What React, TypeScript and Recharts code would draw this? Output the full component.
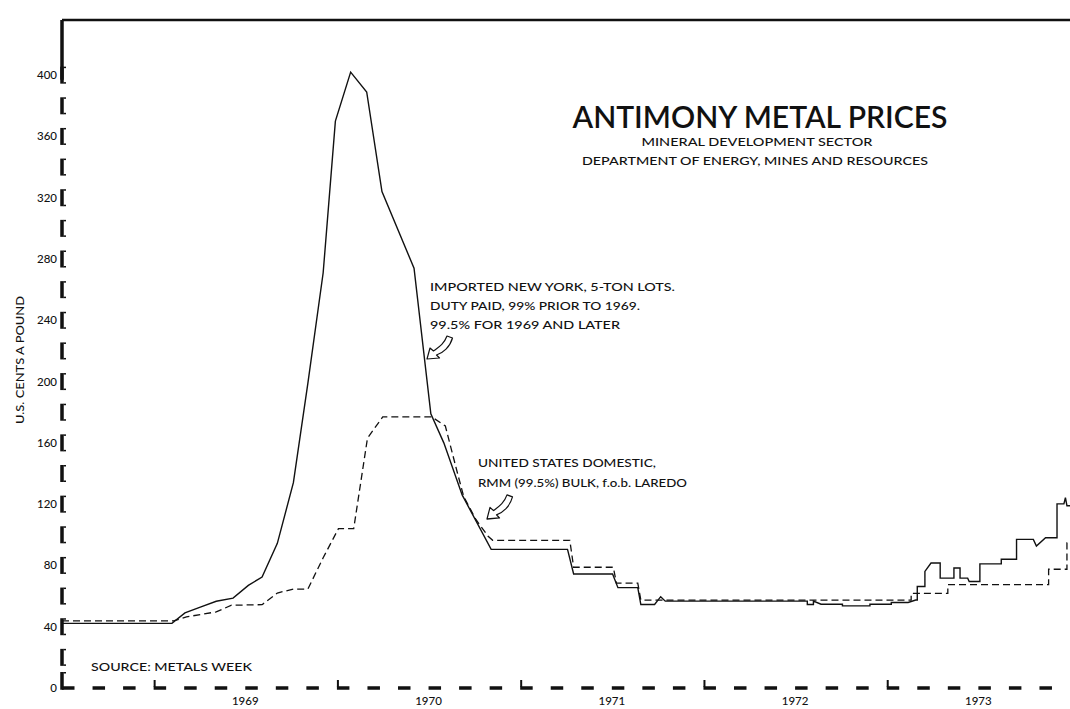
import React from 'react';
import { LineChart, Line, XAxis, YAxis, ReferenceLine } from 'recharts';

// x = months after July 1968 (chart runs Jul 1968 - Dec 1973)
const importedMonth = [0, 7.2, 8.05, 9.1, 10.1, 11.2, 12.2, 13.1, 14.1, 15.15,
  16.1, 17.1, 17.9, 18.9, 19.95, 20.95, 23.05, 24.15, 25.0, 26.2,
  28.1, 33.1, 33.5, 36.05, 36.4, 37.7, 37.9, 38.8, 39.2, 39.5,
  48.8, 48.8, 49.2, 49.2, 49.7, 51.1, 51.1, 52.9, 52.9, 54.3,
  54.3, 55.4, 55.9, 56.0, 56.0, 56.5, 56.5, 56.9, 57.5, 57.5,
  58.4, 58.4, 58.8, 58.8, 59.3, 59.4, 60.1, 60.1, 61.5, 61.5,
  62.5, 62.5, 63.6, 63.8, 64.4, 65.15, 65.15, 65.6, 65.7, 65.8, 66];
const importedPrice = [42.2, 42.2, 49, 53, 56.6, 58.7, 67, 72.4, 94.4, 134,
  199, 271, 370, 402, 389, 324, 274, 179, 160, 126,
  90.5, 90.5, 74.4, 74.4, 65.5, 65.5, 54.5, 54.5, 59.6, 56.7,
  56.7, 54.5, 54.5, 56.7, 54.7, 54.7, 53.6, 53.6, 54.7, 54.7,
  55.8, 55.8, 57.4, 57.4, 66.2, 66.2, 76.1, 81.6, 81.6, 71.7,
  71.7, 78.3, 78.3, 71.7, 71.7, 69.5, 69.5, 81, 81, 84,
  84, 97, 97, 92.6, 98.1, 98.1, 120.2, 120.2, 124.2, 119, 119];

const domesticMonth = [0, 7.3, 8.15, 10.1, 11.1, 13.1, 14.1, 15.15, 16.1, 17.1,
  18.1, 19.1, 20.0, 21.0, 24.2, 25.1, 25.9, 26.3, 27.1, 27.9,
  28.2, 33.25, 33.5, 36.1, 36.3, 37.7, 37.9, 55.6, 55.6, 58.0,
  58.0, 64.6, 64.6, 65.8, 65.8, 66];
const domesticPrice = [43.8, 43.8, 46.4, 49.7, 54, 54.4, 62, 64.6, 64.6, 85,
  104, 104, 163, 177, 177, 171, 140, 125, 110, 99,
  96.4, 96.4, 78.8, 78.8, 68.4, 68.4, 57.4, 57.4, 61.7, 61.7,
  67.5, 67.5, 77.5, 77.5, 94.7, 94.7];

const yearLabels = ['1969', '1970', '1971', '1972', '1973'];
const yearStartMonths = [6, 18, 30, 42, 54];
const priceTicks = [0, 20, 40, 60, 80, 100, 120, 140, 160, 180, 200, 220, 240, 260, 280, 300, 320, 340, 360, 380, 400];
const monthTicks = Array.from({ length: 34 }, (_, i) => i * 2);

const importedData = importedMonth.map((t, i) => ({ t, v: importedPrice[i] }));
const domesticData = domesticMonth.map((t, i) => ({ t, v: domesticPrice[i] }));

const INK = '#111';
const FONT = 'Lato, "DejaVu Sans", sans-serif';

const XTick = (props: any) => {
  const { x, y, payload } = props;
  const t = payload.value;
  const yearIdx = yearStartMonths.indexOf(t);
  const labelIdx = yearStartMonths.indexOf(t - 6);
  return (
    <g>
      <rect x={x} y={y - 1.75} width={12.5} height={3.5} fill={INK} />
      {yearIdx >= 0 && <rect x={x} y={y - 8} width={2} height={7} fill={INK} />}
      {labelIdx >= 0 && (
        <text x={x} y={y + 17} textAnchor="middle" fontSize={11.5} fontWeight={500} fontFamily={FONT} fill={INK}>
          {yearLabels[labelIdx]}
        </text>
      )}
    </g>
  );
};

const YTick = (props: any) => {
  const { x, y, payload } = props;
  const v = payload.value;
  const top = v === 0 ? y - 16 : y - 8.5;
  const h = v === 0 ? 17.75 : 17;
  return (
    <g>
      <rect x={x - 1.75} y={top} width={3.5} height={h} fill={INK} />
      <rect x={x + 1.5} y={top} width={2.5} height={1.5} fill={INK} />
      {v !== 0 && <rect x={x + 1.5} y={top + h - 1.5} width={2.5} height={1.5} fill={INK} />}
      {v % 40 === 0 && (
        <text x={x - 5} y={y + 4} textAnchor="end" fontSize={11.5} fontWeight={500} fontFamily={FONT} fill={INK}>
          {v}
        </text>
      )}
    </g>
  );
};

const HollowArrow = ({ x, y, sy = 1 }: { x: number; y: number; sy?: number }) => (
  <path
    transform={`translate(${x},${y}) scale(1,${sy})`}
    d="M0 0 L3 -11 L6.5 -8 C12 -12 17 -15 20 -23 L25.5 -21 C23 -12 16 -6 9.5 -4 L12.5 -1 Z"
    fill="#fff"
    stroke={INK}
    strokeWidth={1.2}
    strokeLinejoin="round"
  />
);

export default function App() {
  return (
    <div style={{ position: 'absolute', left: 0, top: 0, width: 1070, height: 709, background: '#fff' }}>
      <LineChart width={1070} height={709} margin={{ top: 20, right: 0, bottom: 0, left: 0 }}>
        <XAxis
          type="number"
          dataKey="t"
          domain={[0, 66]}
          allowDataOverflow
          ticks={monthTicks}
          interval={0}
          tick={<XTick />}
          tickSize={0}
          tickMargin={0}
          axisLine={false}
          tickLine={false}
          height={21}
        />
        <YAxis
          type="number"
          domain={[0, 436]}
          allowDataOverflow
          ticks={priceTicks}
          interval={0}
          tick={<YTick />}
          tickSize={0}
          tickMargin={0}
          axisLine={false}
          tickLine={false}
          width={62}
        />
        <ReferenceLine segment={[{ x: 0, y: 436 }, { x: 66, y: 436 }]} stroke={INK} strokeWidth={2.5} ifOverflow="visible" />
        <ReferenceLine segment={[{ x: 0, y: 397 }, { x: 0, y: 436 }]} stroke={INK} strokeWidth={3.5} ifOverflow="visible" />
        <Line
          data={domesticData}
          dataKey="v"
          type="linear"
          stroke={INK}
          strokeWidth={1.3}
          strokeDasharray="7 4"
          dot={false}
          activeDot={false}
          isAnimationActive={false}
        />
        <Line
          data={importedData}
          dataKey="v"
          type="linear"
          stroke={INK}
          strokeWidth={1.4}
          dot={false}
          activeDot={false}
          isAnimationActive={false}
        />
      </LineChart>
      <svg width={1070} height={709} style={{ position: 'absolute', left: 0, top: 0, pointerEvents: 'none' }}>
        <g fontFamily={FONT} fill={INK} fontWeight={500}>
          <text x={760} y={128} textAnchor="middle" fontSize={31} fontWeight={600} textLength={375} lengthAdjust="spacingAndGlyphs">
            ANTIMONY METAL PRICES
          </text>
          <text x={757} y={146} textAnchor="middle" fontSize={12} textLength={231} lengthAdjust="spacingAndGlyphs">
            MINERAL DEVELOPMENT SECTOR
          </text>
          <text x={755} y={165} textAnchor="middle" fontSize={12} textLength={346} lengthAdjust="spacingAndGlyphs">
            DEPARTMENT OF ENERGY, MINES AND RESOURCES
          </text>
          <text x={430} y={291} fontSize={12} textLength={245} lengthAdjust="spacingAndGlyphs">
            IMPORTED NEW YORK, 5-TON LOTS.
          </text>
          <text x={430} y={310} fontSize={12} textLength={210} lengthAdjust="spacingAndGlyphs">
            DUTY PAID, 99% PRIOR TO 1969.
          </text>
          <text x={430} y={329} fontSize={12} textLength={190} lengthAdjust="spacingAndGlyphs">
            99.5% FOR 1969 AND LATER
          </text>
          <text x={478} y={467} fontSize={12} textLength={178} lengthAdjust="spacingAndGlyphs">
            UNITED STATES DOMESTIC,
          </text>
          <text x={478} y={487} fontSize={12} textLength={209} lengthAdjust="spacingAndGlyphs">
            RMM (99.5%) BULK, f.o.b. LAREDO
          </text>
          <text x={91} y={671} fontSize={12} textLength={161} lengthAdjust="spacingAndGlyphs">
            SOURCE: METALS WEEK
          </text>
          <text
            x={0}
            y={0}
            transform="translate(24,360) rotate(-90)"
            textAnchor="middle"
            fontSize={12}
            textLength={128}
            lengthAdjust="spacingAndGlyphs"
          >
            U.S. CENTS A POUND
          </text>
        </g>
        <HollowArrow x={427} y={359} />
        <HollowArrow x={487} y={519} sy={1.05} />
      </svg>
    </div>
  );
}
